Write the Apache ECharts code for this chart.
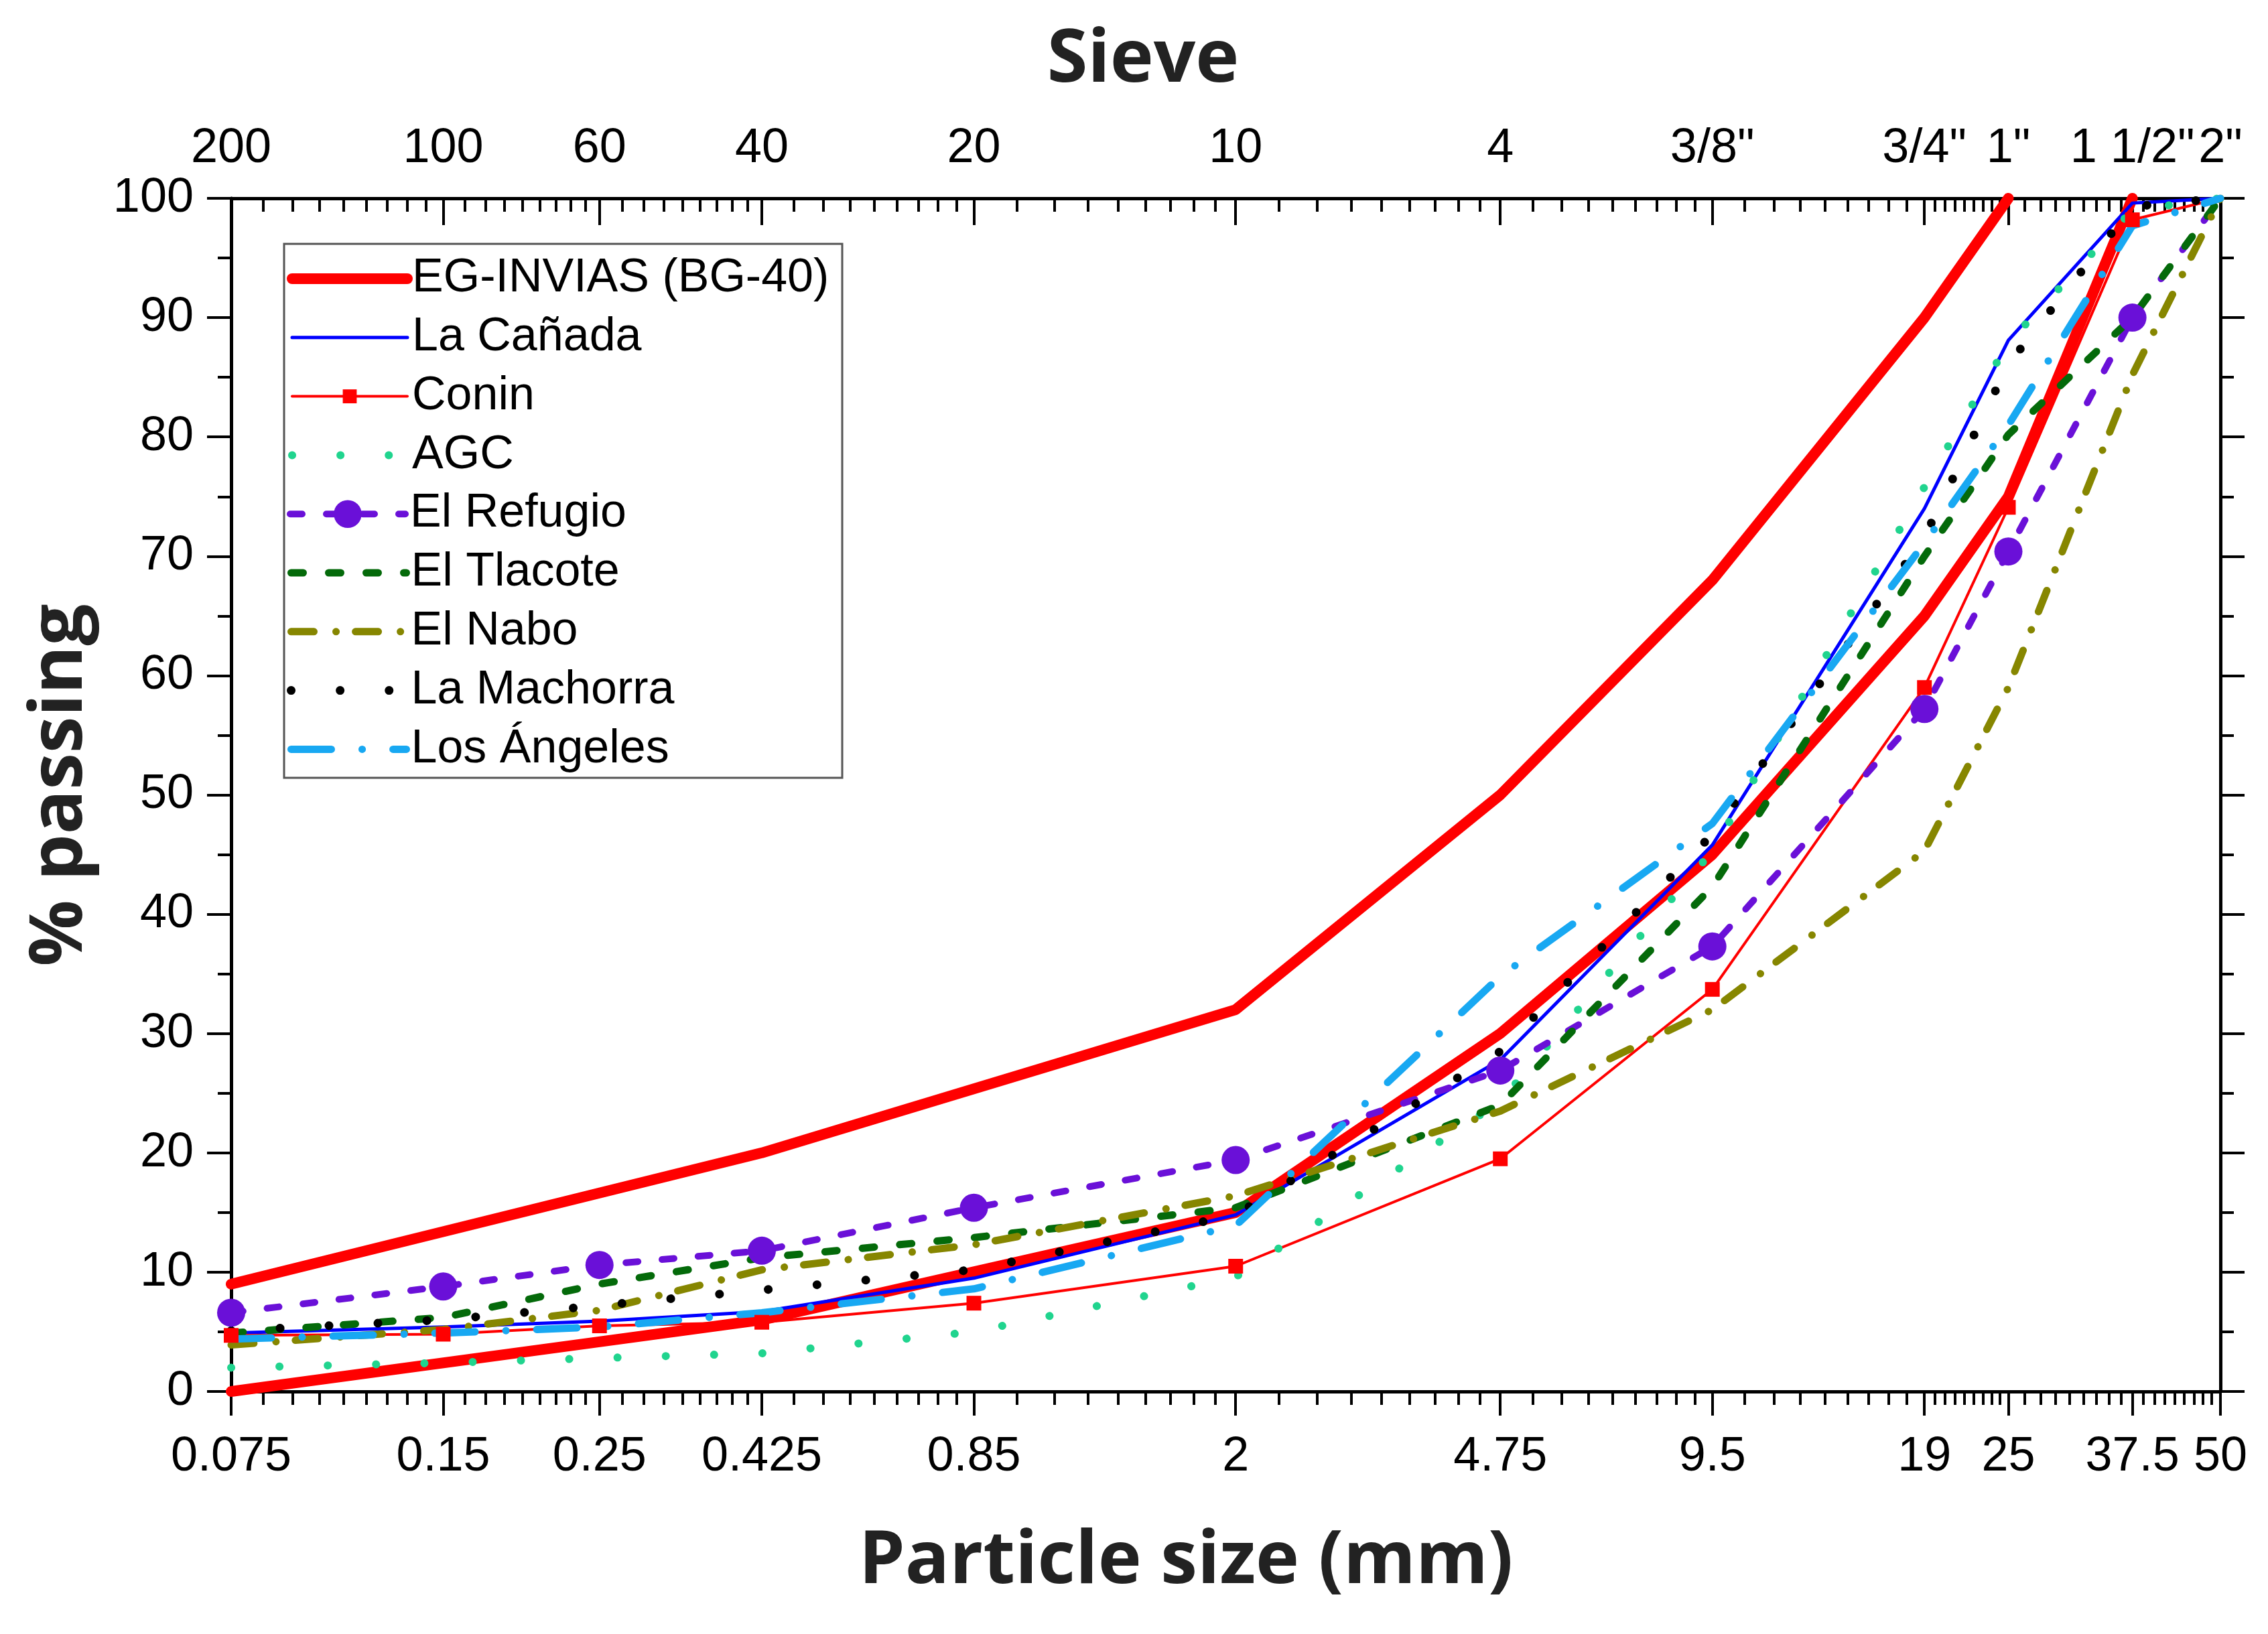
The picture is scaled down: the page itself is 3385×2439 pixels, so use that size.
<!DOCTYPE html>
<html>
<head>
<meta charset="utf-8">
<script src="https://cdn.jsdelivr.net/npm/echarts@6/dist/echarts.min.js"></script>
<style>
  html, body { margin: 0; padding: 0; background: #fff; }
  #chart { width: 3385px; height: 2439px; }
</style>
</head>
<body>
<div id="chart"></div>
<script>
// sieve openings (mm) and their sieve names
const sizes = [0.075, 0.15, 0.25, 0.425, 0.85, 2, 4.75, 9.5, 19, 25, 37.5, 50];
const sieveLabels = ['200', '100', '60', '40', '20', '10', '4', '3/8"', '3/4"', '1"', '1 1/2"', '2"'];

// EG-INVIAS (BG-40) envelope
const egUpperSizes = [0.075, 0.425, 2, 4.75, 9.5, 19, 25];
const egUpper = [9, 20, 32, 50, 68, 90, 100];
const egLowerSizes = [0.075, 0.425, 2, 4.75, 9.5, 19, 25, 37.5];
const egLower = [0, 6, 15, 30, 45, 65, 75, 100];

// % passing for each quarry, at every size above
const laCanada   = [4.9, 5.4, 5.9, 6.7, 9.5, 14.8, 27.8, 45.8, 74.0, 88.1, 99.6, 100];
const conin      = [4.7, 4.8, 5.5, 5.8, 7.4, 10.5, 19.5, 33.7, 59.0, 74.1, 98.2, 100];
const agc        = [2.0, 2.4, 2.8, 3.2, 5.0, 9.6, 24.3, 45.3, 75.8, 87.9, 99.0, 100];
const elRefugio  = [6.6, 8.8, 10.6, 11.8, 15.4, 19.4, 26.9, 37.3, 57.2, 70.4, 90.0, 100];
const elTlacote  = [4.9, 6.2, 9.0, 11.2, 12.9, 15.4, 24.0, 42.3, 70.0, 80.2, 90.0, 100];
const elNabo     = [3.9, 5.2, 6.8, 10.2, 12.3, 16.4, 23.5, 32.0, 45.3, 59.0, 85.2, 100];
const laMachorra = [5.1, 6.0, 7.2, 8.5, 10.2, 14.8, 28.5, 46.7, 71.6, 86.1, 99.3, 100];
const losAngeles = [4.4, 4.9, 5.4, 6.6, 8.6, 13.9, 34.8, 47.6, 71.1, 81.0, 97.7, 100];

// minor ticks: 8 evenly spaced between each pair of sieves
const minorTicks = [];
for (let i = 0; i < sizes.length - 1; i++) {
  const step = (sizes[i + 1] - sizes[i]) / 9;
  for (let k = 1; k < 9; k++) minorTicks.push(sizes[i] + step * k);
}

const pts = (xs, ys) => xs.map((x, i) => [x, ys[i]]);
// last point of the marker series carries no marker (it sits in the corner)
const ptsNoLastMark = (xs, ys) => xs.map((x, i) =>
  i === xs.length - 1 ? { value: [x, ys[i]], symbol: 'none' } : [x, ys[i]]);
const idxOf = (v) => sizes.findIndex((s) => Math.abs(s - v) / s < 1e-6);

const FONT = 'Liberation Sans, Arial, sans-serif';
const TITLE_FONT = 'bold 110px "Open Sans", sans-serif';

const chart = echarts.init(document.getElementById('chart'), null, { renderer: 'canvas' });

function xAxis(position, tickValues, tickLen, inside, labelFn, showLine) {
  return {
    type: 'log',
    logBase: 10,
    min: 0.075,
    max: 50,
    position: position,
    axisLine: { show: showLine, onZero: false, lineStyle: { color: '#000', width: 5 } },
    axisTick: {
      show: true,
      inside: inside,
      length: tickLen,
      customValues: tickValues,
      lineStyle: { color: '#000', width: 4 }
    },
    minorTick: { show: false },
    splitLine: { show: false },
    minorSplitLine: { show: false },
    axisLabel: labelFn ? {
      show: true,
      customValues: sizes,
      formatter: labelFn,
      fontSize: 72,
      fontFamily: FONT,
      color: '#000',
      margin: position === 'top' ? 38 : 62
    } : { show: false }
  };
}

function yAxis(position, showLabel) {
  return {
    type: 'value',
    min: 0,
    max: 100,
    interval: 10,
    position: position,
    axisLine: { show: true, onZero: false, lineStyle: { color: '#000', width: 5 } },
    axisTick: { show: true, inside: false, length: 36, lineStyle: { color: '#000', width: 4 } },
    minorTick: { show: true, splitNumber: 2, length: 20, lineStyle: { color: '#000', width: 4 } },
    splitLine: { show: false },
    axisLabel: showLabel ? {
      fontSize: 72, fontFamily: FONT, color: '#000', margin: 56
    } : { show: false }
  };
}

function line(name, data, color, width, dash, extra) {
  return Object.assign({
    name: name,
    type: 'line',
    data: data,
    xAxisIndex: 0,
    yAxisIndex: 0,
    symbol: 'none',
    silent: true,
    lineStyle: { color: color, width: width, type: dash, cap: 'round', join: 'round' },
    itemStyle: { color: color }
  }, extra || {});
}

const series = [
  line('EG-INVIAS (BG-40)', pts(egUpperSizes, egUpper), '#ff0000', 16, 'solid'),
  line('EG-INVIAS (BG-40)', pts(egLowerSizes, egLower), '#ff0000', 16, 'solid'),
  line('La Cañada', pts(sizes, laCanada), '#0000ff', 5, 'solid'),
  line('Conin', ptsNoLastMark(sizes, conin), '#ff0000', 4, 'solid',
    { symbol: 'rect', symbolSize: 22, showSymbol: true }),
  line('AGC', pts(sizes, agc), '#20d48e', 12, [0.1, 72]),
  line('El Refugio', ptsNoLastMark(sizes, elRefugio), '#6a10d8', 10, [18, 36],
    { symbol: 'circle', symbolSize: 42, showSymbol: true }),
  line('El Tlacote', pts(sizes, elTlacote), '#046a0a', 11, [18, 38]),
  line('El Nabo', pts(sizes, elNabo), '#868600', 11, [34, 33, 0.1, 29]),
  line('La Machorra', pts(sizes, laMachorra), '#000000', 13, [0.1, 73]),
  line('Los Ángeles', pts(sizes, losAngeles), '#18a8f2', 11, [60, 46, 0.1, 46])
];

const marked = ['Conin', 'El Refugio'];
const rowTop = (i) => 416 + i * 87.8 - 35;
function legend(names, row, itemHeight) {
  return {
    show: true,
    orient: 'vertical',
    left: 428,
    top: rowTop(row),
    padding: 0,
    itemGap: 17.8,
    itemWidth: 172,
    itemHeight: itemHeight,
    selectedMode: false,
    data: names.map((n) => marked.includes(n) ? n : { name: n, itemStyle: { opacity: 0 } }),
    lineStyle: { width: 'inherit' },
    textStyle: { fontSize: 70, fontFamily: FONT, color: '#000', padding: [0, 0, 0, 2] }
  };
}

const option = {
  animation: false,
  backgroundColor: '#fff',
  grid: { left: 345, right: 71, top: 296, bottom: 362, containLabel: false },
  xAxis: [
    xAxis('bottom', sizes, 36, false, (v) => { const i = idxOf(v); return i < 0 ? '' : String(sizes[i]); }, true),
    xAxis('bottom', minorTicks, 20, false, null, false),
    xAxis('top', sizes, 40, true, (v) => { const i = idxOf(v); return i < 0 ? '' : sieveLabels[i]; }, true),
    xAxis('top', minorTicks, 20, true, null, false)
  ],
  yAxis: [yAxis('left', true), yAxis('right', false)],
  legend: [
    legend(['EG-INVIAS (BG-40)', 'La Cañada', 'Conin', 'AGC'], 0, 26),
    legend(['El Refugio'], 4, 52),
    legend(['El Tlacote', 'El Nabo', 'La Machorra', 'Los Ángeles'], 5, 26)
  ],
  graphic: [
    { type: 'rect', z: 0, shape: { x: 424, y: 364, width: 833, height: 797 },
      style: { fill: '#fff', stroke: '#555', lineWidth: 3 } },
    { type: 'text', x: 1706, y: 91,
      style: { text: 'Sieve', font: TITLE_FONT, fill: '#222', textAlign: 'center', textVerticalAlign: 'middle' } },
    { type: 'text', x: 1770, y: 2332,
      style: { text: 'Particle size (mm)', font: TITLE_FONT, fill: '#222', textAlign: 'center', textVerticalAlign: 'middle' } },
    { type: 'text', x: 91, y: 1172, rotation: Math.PI / 2,
      style: { text: '% passing', font: TITLE_FONT, fill: '#222', textAlign: 'center', textVerticalAlign: 'middle' } }
  ],
  series: series
};

chart.setOption(option);
</script>
</body>
</html>
